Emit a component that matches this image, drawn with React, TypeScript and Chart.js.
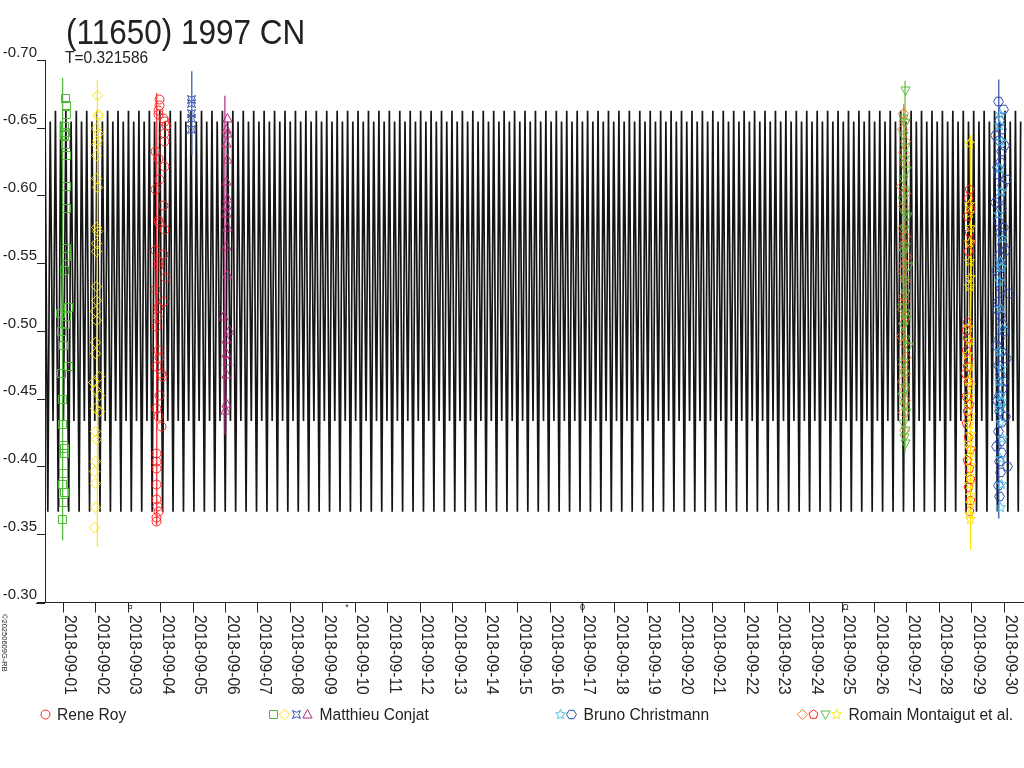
import React, { useEffect, useRef } from "react";
import { Chart, registerables } from "chart.js";

Chart.register(...registerables);

const FONT = "'Liberation Sans', Arial, Helvetica, sans-serif";
const INK = "#222222";

const TITLE = "(11650) 1997 CN";
const SUBTITLE = "T=0.321586";
const COPYRIGHT = "©20250609G-RB";

const DATE_LABELS = [
  "2018-09-01", "2018-09-02", "2018-09-03", "2018-09-04", "2018-09-05",
  "2018-09-06", "2018-09-07", "2018-09-08", "2018-09-09", "2018-09-10",
  "2018-09-11", "2018-09-12", "2018-09-13", "2018-09-14", "2018-09-15",
  "2018-09-16", "2018-09-17", "2018-09-18", "2018-09-19", "2018-09-20",
  "2018-09-21", "2018-09-22", "2018-09-23", "2018-09-24", "2018-09-25",
  "2018-09-26", "2018-09-27", "2018-09-28", "2018-09-29", "2018-09-30",
];
const Y_TICKS = [-0.7, -0.65, -0.6, -0.55, -0.5, -0.45, -0.4, -0.35, -0.3];
const X_MIN = -0.564;
const X_MAX = 29.607;
const Y_MIN = -0.7;
const Y_MAX = -0.3;

const MOON_DAYS = [2.06, 8.74, 16.0, 24.1];
const MOON_GLYPHS = ["¤", "*", "0", "Ω"];

// model lightcurve: one period (phase -> magnitude), repeated with period T
const LC_PERIOD = 0.321586;
const LC_START = -0.564;
const LC_END = 29.53;
const LC_PHASES = [0, 0.27, 0.5, 0.77];
const LC_MAGS = [-0.663, -0.367, -0.655, -0.434];

// ---- Rene Roy (2018-09-04)
const royTimes = [2.98, 2.96, 2.93, 2.93, 3.08, 3.13, 3.19, 3.13, 3.13, 2.83, 2.93, 3.13, 2.98, 2.83, 3.1, 2.93, 2.98, 3.13, 2.83, 3.08, 2.93, 2.93, 3.16, 2.83, 3.08, 2.93, 2.9, 2.88, 2.93, 2.98, 2.88, 3.03, 3.06, 2.98, 2.88, 2.93, 3.03, 2.88, 2.88, 2.88, 2.88, 2.86, 2.9, 2.93, 2.88, 2.88];
const royMags = [-0.671, -0.667, -0.663, -0.66, -0.657, -0.655, -0.652, -0.646, -0.64, -0.633, -0.628, -0.622, -0.612, -0.605, -0.593, -0.582, -0.58, -0.575, -0.56, -0.557, -0.552, -0.548, -0.54, -0.531, -0.522, -0.518, -0.511, -0.504, -0.486, -0.481, -0.474, -0.469, -0.467, -0.453, -0.443, -0.437, -0.43, -0.41, -0.404, -0.399, -0.387, -0.376, -0.371, -0.367, -0.363, -0.36];
const royBar = [2.88, -0.676, -0.357];

// ---- Matthieu Conjat
const conjatSqTimes = [0.083, 0.105, 0.105, 0.052, 0.083, 0.052, 0.083, 0.105, 0.105, 0.105, 0.105, 0.105, 0.052, 0.154, -0.08, 0.105, 0.083, -0.049, 0, 0.154, -0.049, -0.018, -0.018, 0, 0.022, 0.022, 0, -0.018, 0.022, 0, -0.018];
const conjatSqMags = [-0.672, -0.667, -0.66, -0.651, -0.647, -0.645, -0.638, -0.63, -0.607, -0.591, -0.561, -0.555, -0.545, -0.518, -0.513, -0.511, -0.505, -0.5, -0.49, -0.474, -0.469, -0.45, -0.431, -0.416, -0.414, -0.41, -0.395, -0.387, -0.381, -0.374, -0.361];
const conjatSqBar = [-0.02, -0.687, -0.346];

const conjatDiaTimes = [1.05, 1.08, 1.08, 1.03, 1.08, 1.05, 1.03, 1.03, 1.03, 1.05, 1.03, 1.05, 1.03, 1.01, 1.03, 1.01, 0.98, 1.01, 0.98, 0.98, 1.13, 0.92, 0.98, 1.13, 0.98, 1.11, 0.98, 1.01, 0.98, 0.95, 0.98, 0.98, 0.95];
const conjatDiaMags = [-0.674, -0.66, -0.659, -0.65, -0.646, -0.641, -0.638, -0.63, -0.613, -0.606, -0.577, -0.574, -0.565, -0.559, -0.533, -0.523, -0.515, -0.508, -0.492, -0.484, -0.467, -0.462, -0.457, -0.453, -0.443, -0.441, -0.426, -0.42, -0.404, -0.397, -0.388, -0.37, -0.355];
const conjatDiaBar = [1.05, -0.686, -0.341];

const conjatBowTimes = [3.96, 3.96, 3.96, 3.96, 3.96];
const conjatBowMags = [-0.671, -0.668, -0.661, -0.657, -0.649];
const conjatBowBar = [3.96, -0.692, -0.63];

const conjatTriTimes = [5.06, 5.04, 5.06, 5.04, 5.06, 5.04, 5.06, 5.02, 5.04, 5.06, 5.04, 5.06, 4.93, 5.13, 5.04, 5.02, 5.06, 5.04, 5.02, 5.0];
const conjatTriMags = [-0.657, -0.649, -0.646, -0.639, -0.627, -0.611, -0.598, -0.593, -0.587, -0.577, -0.563, -0.542, -0.511, -0.501, -0.494, -0.484, -0.478, -0.468, -0.447, -0.442];
const conjatTriBar = [4.98, -0.674, -0.424];

// ---- Bruno Christmann (2018-09-30)
const christmannStarTimes = [28.88, 28.84, 28.92, 28.86, 28.9, 28.83, 28.95, 28.87, 28.91, 28.85, 28.89, 28.93, 28.86, 28.9, 28.84, 28.88, 28.92, 28.86, 28.89, 28.94, 28.87, 28.9, 28.88];
const christmannStarMags = [-0.66, -0.652, -0.64, -0.62, -0.603, -0.586, -0.569, -0.552, -0.547, -0.537, -0.517, -0.502, -0.485, -0.473, -0.463, -0.453, -0.448, -0.443, -0.433, -0.421, -0.406, -0.387, -0.37];

const christmannHexTimes = [28.83, 28.86, 28.9, 28.84, 28.92, 28.87, 28.83, 28.95, 28.85, 28.9, 28.82, 28.88, 28.93, 28.84, 28.89, 28.86, 28.92, 28.83, 28.88, 28.95, 28.85, 28.9, 28.82, 28.87, 28.93, 28.84, 28.89, 28.86, 28.91, 28.83, 28.88, 28.92, 28.85, 28.87, 28.84, 28.98, 28.74, 29.02, 28.78, 29.08, 28.72, 28.99, 29.05, 28.76, 29.12, 28.8, 29.01, 28.75, 29.06, 28.97, 28.79, 29.03, 28.77, 29.1, 28.81];
const christmannHexMags = [-0.67, -0.656, -0.649, -0.641, -0.633, -0.625, -0.616, -0.608, -0.598, -0.591, -0.581, -0.573, -0.564, -0.556, -0.549, -0.541, -0.532, -0.522, -0.512, -0.505, -0.495, -0.485, -0.475, -0.468, -0.458, -0.453, -0.446, -0.441, -0.433, -0.426, -0.419, -0.411, -0.404, -0.396, -0.378, -0.664, -0.645, -0.637, -0.621, -0.612, -0.595, -0.577, -0.56, -0.545, -0.528, -0.516, -0.5, -0.49, -0.48, -0.463, -0.449, -0.437, -0.415, -0.4, -0.386];
const christmannHexBar = [28.83, -0.686, -0.362];

// ---- Romain Montaigut et al.
const montaigutDiaTimes = [25.88, 25.92, 25.85, 25.95, 25.89, 25.93, 25.84, 25.97, 25.9, 25.86, 25.94, 25.88, 25.99, 25.91, 25.85, 25.95, 25.89, 25.93, 25.87, 25.96, 25.9, 25.84, 25.92, 25.98, 25.88, 25.94, 25.86, 25.91, 25.95, 25.89, 25.93];
const montaigutDiaMags = [-0.661, -0.655, -0.649, -0.64, -0.632, -0.624, -0.607, -0.602, -0.592, -0.576, -0.57, -0.564, -0.555, -0.55, -0.544, -0.538, -0.526, -0.522, -0.516, -0.511, -0.506, -0.496, -0.491, -0.481, -0.476, -0.469, -0.463, -0.457, -0.449, -0.44, -0.427];
const montaigutDiaBar = [25.9, -0.668, -0.42];

const montaigutTriTimes = [25.94, 25.9, 25.97, 25.88, 25.95, 25.92, 26.0, 25.9, 25.96, 25.86, 25.93, 26.02, 25.91, 25.95, 25.88, 26.04, 25.92, 25.97, 25.86, 25.94, 25.99, 25.9, 25.96, 26.06, 25.88, 25.93, 25.97, 25.85, 25.92, 26.0, 25.89, 25.95, 25.91, 25.94];
const montaigutTriMags = [-0.678, -0.657, -0.654, -0.645, -0.636, -0.627, -0.619, -0.612, -0.604, -0.597, -0.587, -0.585, -0.575, -0.563, -0.558, -0.548, -0.538, -0.528, -0.518, -0.513, -0.509, -0.504, -0.494, -0.489, -0.477, -0.469, -0.459, -0.452, -0.445, -0.44, -0.432, -0.427, -0.422, -0.417];
const montaigutTriBar = [25.94, -0.685, -0.41];

const montaigutPentTimes = [27.93, 27.9, 27.95, 27.88, 27.92, 27.96, 27.9, 27.86, 27.82, 27.88, 27.84, 27.91, 27.86, 27.8, 27.89, 27.84, 27.93, 27.87, 27.82, 27.9, 27.95, 27.88, 27.93, 27.97, 27.91, 27.95, 27.93];
const montaigutPentMags = [-0.605, -0.598, -0.591, -0.585, -0.573, -0.566, -0.559, -0.507, -0.501, -0.495, -0.486, -0.479, -0.474, -0.469, -0.462, -0.452, -0.446, -0.441, -0.432, -0.422, -0.413, -0.405, -0.399, -0.391, -0.385, -0.375, -0.367];

const montaigutStarTimes = [27.93, 27.94, 27.92, 27.95, 27.93, 27.94, 27.95, 27.94, 27.9, 27.92, 27.88, 27.94, 27.9, 27.96, 27.92, 27.89, 27.95, 27.93, 27.97, 27.91, 27.95, 27.93, 27.96, 27.94, 27.92, 27.95, 27.96, 27.94, 27.96];
const montaigutStarMags = [-0.639, -0.594, -0.587, -0.577, -0.566, -0.552, -0.54, -0.533, -0.503, -0.493, -0.483, -0.474, -0.464, -0.46, -0.452, -0.445, -0.438, -0.431, -0.424, -0.417, -0.413, -0.408, -0.401, -0.393, -0.387, -0.379, -0.373, -0.365, -0.361];
const montaigutStarBar = [27.96, -0.645, -0.339];

const OBSERVERS = ["Rene Roy", "Matthieu Conjat", "Bruno Christmann", "Romain Montaigut et al."];

const RED = "#ff2222";
const GREEN_SQ = "#4cb834";
const YELLOW = "#ffe400";
const BLUE = "#3552b0";
const PURPLE = "#b8247c";
const CYAN = "#46c4e6";
const ORANGE = "#ff7420";
const GREEN_TRI = "#5cbe3c";
const BLUE_HEX = "#2c4aa8";

type Kind = "circle" | "square" | "diamond" | "bowtie" | "triUp" | "triDown" | "star" | "pentagon" | "hexagon";

function makeMarker(kind: Kind, color: string): HTMLCanvasElement {
  const size = 13;
  const c = document.createElement("canvas");
  c.width = size;
  c.height = size;
  const g = c.getContext("2d")!;
  g.strokeStyle = color;
  g.lineWidth = 1;
  const m = size / 2;
  const poly = (pts: number[][]) => {
    g.beginPath();
    pts.forEach((p, i) => (i === 0 ? g.moveTo(m + p[0], m + p[1]) : g.lineTo(m + p[0], m + p[1])));
    g.closePath();
    g.stroke();
  };
  const regular = (n: number, r: number, rot: number) => {
    const pts: number[][] = [];
    for (let i = 0; i < n; i++) {
      const a = rot + (i * 2 * Math.PI) / n;
      pts.push([r * Math.cos(a), r * Math.sin(a)]);
    }
    poly(pts);
  };
  switch (kind) {
    case "circle":
      g.beginPath();
      g.arc(m, m, 4.5, 0, Math.PI * 2);
      g.stroke();
      break;
    case "square":
      poly([[-4, -4], [4, -4], [4, 4], [-4, 4]]);
      break;
    case "diamond":
      regular(4, 5.2, -Math.PI / 2);
      break;
    case "bowtie":
      poly([[-4, -4], [0, -2.2], [4, -4], [2.2, 0], [4, 4], [0, 2.2], [-4, 4], [-2.2, 0]]);
      break;
    case "triUp":
      poly([[0, -5], [4.6, 3.5], [-4.6, 3.5]]);
      break;
    case "triDown":
      poly([[0, 5], [4.6, -3.5], [-4.6, -3.5]]);
      break;
    case "star": {
      const pts: number[][] = [];
      for (let i = 0; i < 10; i++) {
        const r = i % 2 === 0 ? 5.2 : 2.3;
        const a = -Math.PI / 2 + (i * Math.PI) / 5;
        pts.push([r * Math.cos(a), r * Math.sin(a)]);
      }
      poly(pts);
      break;
    }
    case "pentagon":
      regular(5, 4.7, -Math.PI / 2);
      break;
    case "hexagon":
      regular(6, 4.9, 0);
      break;
  }
  return c;
}

function pts(times: number[], mags: number[]) {
  return times.map((t, i) => ({ x: t, y: mags[i] }));
}

function barPts(bar: number[]) {
  return [
    { x: bar[0], y: bar[1] },
    { x: bar[0], y: bar[2] },
  ];
}

function buildLightcurve() {
  const out: { x: number; y: number }[] = [];
  for (let k = 0; ; k++) {
    const base = LC_START + k * LC_PERIOD;
    if (base > LC_END) break;
    for (let i = 0; i < LC_PHASES.length; i++) {
      const t = base + LC_PHASES[i] * LC_PERIOD;
      if (t <= LC_END) out.push({ x: t, y: LC_MAGS[i] });
    }
  }
  return out;
}

export default function App() {
  const ref = useRef<HTMLCanvasElement | null>(null);

  useEffect(() => {
    const canvas = ref.current;
    if (!canvas) return;

    const mk = {
      royCircle: makeMarker("circle", RED),
      sq: makeMarker("square", GREEN_SQ),
      dia: makeMarker("diamond", YELLOW),
      bow: makeMarker("bowtie", BLUE),
      tri: makeMarker("triUp", PURPLE),
      cStar: makeMarker("star", CYAN),
      hex: makeMarker("hexagon", BLUE_HEX),
      oDia: makeMarker("diamond", ORANGE),
      pent: makeMarker("pentagon", RED),
      gTri: makeMarker("triDown", GREEN_TRI),
      yStar: makeMarker("star", YELLOW),
    };

    const legendSets: HTMLCanvasElement[][] = [
      [mk.royCircle],
      [mk.sq, mk.dia, mk.bow, mk.tri],
      [mk.cStar, mk.hex],
      [mk.oDia, mk.pent, mk.gTri, mk.yStar],
    ];
    const legendStart = [45, 273, 560, 802];

    const bar = (bar: number[], color: string) => ({
      data: barPts(bar),
      showLine: true,
      borderColor: color,
      borderWidth: 1.2,
      pointRadius: 0,
      order: 5,
    });
    // marker datasets: positions come from Chart.js (meta elements); the glyph is stamped crisply by the plugin
    const marks = (times: number[], mags: number[], style: HTMLCanvasElement) => ({
      data: pts(times, mags),
      showLine: false,
      pointRadius: 0,
      markerImg: style,
      order: 1,
    });

    const markerPlugin = {
      id: "crispMarkers",
      afterDatasetsDraw(chart: any) {
        const ctx = chart.ctx as CanvasRenderingContext2D;
        const area = chart.chartArea;
        ctx.save();
        ctx.beginPath();
        ctx.rect(area.left, area.top - 6, area.right - area.left, area.bottom - area.top + 6);
        ctx.clip();
        chart.data.datasets.forEach((ds: any, i: number) => {
          if (!ds.markerImg) return;
          const img = ds.markerImg as HTMLCanvasElement;
          const meta = chart.getDatasetMeta(i);
          meta.data.forEach((el: any) => {
            ctx.drawImage(img, Math.round(el.x - img.width / 2), Math.round(el.y - img.height / 2));
          });
        });
        ctx.restore();
      },
    };

    const drawText = {
      id: "customText",
      afterDraw(chart: any) {
        const ctx = chart.ctx as CanvasRenderingContext2D;
        const xs = chart.scales.x;
        const area = chart.chartArea;
        ctx.save();
        ctx.strokeStyle = INK;
        ctx.lineWidth = 1;
        ctx.beginPath();
        ctx.moveTo(36, Math.round(area.bottom) + 0.5);
        ctx.lineTo(area.left, Math.round(area.bottom) + 0.5);
        ctx.stroke();

        ctx.fillStyle = INK;
        ctx.font = `15.6px ${FONT}`;
        ctx.textAlign = "left";
        ctx.textBaseline = "alphabetic";
        DATE_LABELS.forEach((lab, i) => {
          const x = xs.getPixelForValue(i);
          ctx.save();
          ctx.translate(x + 2, area.bottom + 12.5);
          ctx.rotate(Math.PI / 2);
          ctx.scale(1, 1.05);
          ctx.fillText(lab, 0, 0);
          ctx.restore();
        });

        ctx.font = `9px ${FONT}`;
        ctx.textAlign = "center";
        ctx.textBaseline = "top";
        MOON_DAYS.forEach((d, i) => {
          ctx.fillText(MOON_GLYPHS[i], xs.getPixelForValue(d), area.bottom + 1);
        });

        ctx.textAlign = "left";
        ctx.textBaseline = "alphabetic";
        ctx.save();
        ctx.translate(66, 44);
        ctx.scale(1, 1.1);
        ctx.font = `31.5px ${FONT}`;
        ctx.fillText(TITLE, 0, 0);
        ctx.restore();
        ctx.save();
        ctx.translate(65, 63);
        ctx.scale(1, 1.08);
        ctx.font = `15.5px ${FONT}`;
        ctx.fillText(SUBTITLE, 0, 0);
        ctx.restore();

        ctx.save();
        ctx.translate(2, 614);
        ctx.rotate(Math.PI / 2);
        ctx.font = `7.5px ${FONT}`;
        ctx.fillText(COPYRIGHT, 0, 0);
        ctx.restore();

        const ly = 714;
        ctx.font = `15.6px ${FONT}`;
        ctx.textBaseline = "alphabetic";
        OBSERVERS.forEach((name, i) => {
          const set = legendSets[i];
          let cx = legendStart[i];
          set.forEach((img, j) => {
            ctx.drawImage(img, Math.round(cx - img.width / 2), Math.round(ly - img.height / 2));
            if (j < set.length - 1) cx += 11.5;
          });
          ctx.save();
          ctx.translate(cx + 12, 719.5);
          ctx.scale(1, 1.06);
          ctx.fillText(name, 0, 0);
          ctx.restore();
        });
        ctx.restore();
      },
    };

    const chart = new Chart(canvas, {
      type: "scatter",
      data: {
        datasets: [
          {
            data: buildLightcurve(),
            showLine: true,
            borderColor: "#151515",
            borderWidth: 1.7,
            borderJoinStyle: "bevel",
            pointRadius: 0,
            order: 10,
          } as any,
          bar(conjatSqBar, GREEN_SQ),
          bar(conjatDiaBar, YELLOW),
          bar(royBar, RED),
          bar(conjatBowBar, BLUE),
          bar(conjatTriBar, PURPLE),
          bar(montaigutDiaBar, ORANGE),
          bar(montaigutTriBar, GREEN_TRI),
          bar(montaigutStarBar, YELLOW),
          bar(christmannHexBar, BLUE_HEX),
          marks(conjatSqTimes, conjatSqMags, mk.sq),
          marks(conjatDiaTimes, conjatDiaMags, mk.dia),
          marks(royTimes, royMags, mk.royCircle),
          marks(conjatBowTimes, conjatBowMags, mk.bow),
          marks(conjatTriTimes, conjatTriMags, mk.tri),
          marks(montaigutDiaTimes, montaigutDiaMags, mk.oDia),
          marks(montaigutTriTimes, montaigutTriMags, mk.gTri),
          marks(montaigutPentTimes, montaigutPentMags, mk.pent),
          marks(montaigutStarTimes, montaigutStarMags, mk.yStar),
          marks(christmannHexTimes, christmannHexMags, mk.hex),
          marks(christmannStarTimes, christmannStarMags, mk.cStar),
        ] as any,
      },
      options: {
        animation: false,
        responsive: true,
        maintainAspectRatio: false,
        events: [],
        layout: { padding: { top: 60.5, right: 0, bottom: 0, left: 0 } },
        plugins: {
          legend: { display: false },
          tooltip: { enabled: false },
          title: { display: false },
        },
        scales: {
          x: {
            type: "linear",
            min: X_MIN,
            max: X_MAX,
            afterFit: (s: any) => {
              s.height = 165.5;
            },
            afterBuildTicks: (s: any) => {
              s.ticks = DATE_LABELS.map((_, i) => ({ value: i }));
            },
            ticks: { display: false },
            grid: { drawOnChartArea: false, drawTicks: true, tickLength: 10, color: INK, lineWidth: 1 },
            border: { color: INK, width: 1 },
          },
          y: {
            type: "linear",
            reverse: true,
            min: Y_MIN,
            max: Y_MAX,
            afterFit: (s: any) => {
              s.width = 45;
            },
            afterBuildTicks: (s: any) => {
              s.ticks = Y_TICKS.map((v) => ({ value: v }));
            },
            ticks: {
              font: { family: FONT, size: 15 },
              color: INK,
              padding: 0,
              labelOffset: -8,
              callback: (v: any) => Number(v).toFixed(2),
            },
            grid: { drawOnChartArea: false, drawTicks: true, tickLength: 8, color: INK, lineWidth: 1 },
            border: { color: INK, width: 1 },
          },
        },
      } as any,
      plugins: [markerPlugin, drawText],
    });

    return () => chart.destroy();
  }, []);

  return (
    <div style={{ position: "fixed", left: 0, top: 0, width: 1024, height: 768, background: "#fff" }}>
      <canvas ref={ref} />
    </div>
  );
}
